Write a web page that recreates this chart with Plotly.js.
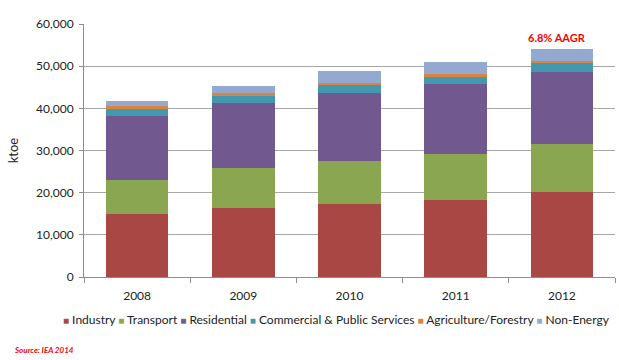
<!DOCTYPE html>
<html>
<head>
<meta charset="utf-8">
<script src="https://cdn.plot.ly/plotly-3.0.1.min.js"></script>
<style>html,body{margin:0;padding:0;background:#fff;}#chart{width:619px;height:360px;}</style>
</head>
<body>
<div id="chart"></div>
<script>
const years = ['2008', '2009', '2010', '2011', '2012'];
const industry    = [15000, 16350, 17370, 18240, 20130];
const transport   = [8000, 9470, 10100, 10890, 11370];
const residential = [15150, 15400, 16100, 16580, 17050];
const commercial  = [1650, 1820, 1900, 1660, 2130];
const agriculture = [700, 550, 480, 710, 480];
const nonEnergy   = [1180, 1660, 2840, 2840, 2840];
const seriesNames = ['Industry', 'Transport', 'Residential', 'Commercial & Public Services', 'Agriculture/Forestry', 'Non-Energy'];
const seriesColors = ['#A94744', '#8BA651', '#71588F', '#4198AF', '#DB843D', '#93A9CF'];
const seriesValues = [industry, transport, residential, commercial, agriculture, nonEnergy];
const aagrLabel = '6.8% AAGR';
const sourceLabel = 'Source: IEA 2014';

const W = 619, H = 360, M = {l: 84, r: 4, t: 24, b: 83};
const font = 'Lato, "Open Sans", sans-serif';
const traces = seriesValues.map((v, i) => ({
  type: 'bar', x: years, y: v, name: seriesNames[i],
  marker: {color: seriesColors[i], line: {width: 0}},
  hoverinfo: 'y+name', showlegend: false
}));
const totalLast = seriesValues.reduce((s, a) => s + a[a.length - 1], 0);
const px2x = p => (p - M.l) / (W - M.l - M.r);
const px2y = p => (H - M.b - p) / (H - M.t - M.b);

const legendText = seriesNames.map((n, i) =>
  '<span style="color:' + seriesColors[i] + ';font-size:10px">■</span> ' + n).join(' ');

const layout = {
  width: W, height: H, margin: M,
  barmode: 'stack', bargap: 0.41,
  paper_bgcolor: '#fff', plot_bgcolor: '#fff',
  font: {family: font, size: 12, color: '#222'},
  showlegend: false,
  xaxis: {type: 'category', range: [-0.5, years.length - 0.5], showgrid: false, showline: true,
          linecolor: '#8c8c8c', linewidth: 1,
          ticks: 'outside', tickson: 'boundaries', ticklen: 5, tickcolor: '#8c8c8c',
          ticklabelstandoff: 8,
          tickfont: {family: font, size: 12, color: '#222'}, fixedrange: true},
  yaxis: {range: [0, 60000], dtick: 10000, tickformat: ',d', showgrid: true,
          gridcolor: '#A6A6A6', gridwidth: 1.3, showline: true, linecolor: '#8c8c8c',
          ticks: 'outside', ticklen: 4, tickcolor: '#8c8c8c', zeroline: false,
          ticklabelstandoff: 3,
          tickfont: {family: font, size: 12, color: '#222'},
          title: {text: 'ktoe', font: {family: font, size: 13, color: '#222'}, standoff: 14}},
  annotations: [
    {x: years.length - 1, y: totalLast, xref: 'x', yref: 'y', text: '<b>' + aagrLabel + '</b>', showarrow: false,
     yanchor: 'bottom', yshift: 3, xshift: -5, font: {family: font, size: 11, color: '#FF0000'}},
    {x: px2x(336), y: px2y(319), xref: 'paper', yref: 'paper', text: legendText, showarrow: false,
     xanchor: 'center', yanchor: 'middle', font: {family: font, size: 12, color: '#222'}},
    {x: px2x(12), y: px2y(350), xref: 'paper', yref: 'paper', text: '<b><i>' + sourceLabel + '</i></b>', showarrow: false,
     xanchor: 'left', yanchor: 'middle', font: {family: font, size: 8, color: '#FF0000'}}
  ]
};

Plotly.newPlot('chart', traces, layout, {displayModeBar: false, staticPlot: true});
</script>
</body>
</html>
